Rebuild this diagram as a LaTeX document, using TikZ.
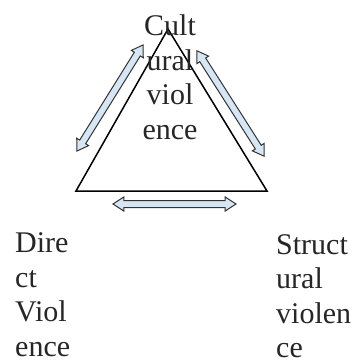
\documentclass[tikz,border=0pt]{standalone}
\usepackage{fontspec}
\setmainfont{Liberation Serif}
\usetikzlibrary{shapes.arrows}
\definecolor{arrowfill}{HTML}{D6E6F4}
\definecolor{arrowline}{HTML}{333333}
\tikzset{
  dblarrow/.style={double arrow, draw=arrowline, fill=arrowfill, line width=1pt,
    inner xsep=0pt, inner ysep=3pt, minimum width=13pt,
    double arrow head extend=3.5pt, double arrow tip angle=66,
    minimum height=#1},
  label/.style={inner sep=0pt, font=\fontsize{30}{34.5}\selectfont, text=black!85}
}
\begin{document}
\begin{tikzpicture}[x=1pt,y=-1pt]
\useasboundingbox (0,0) rectangle (353,364);
\fill[white] (0,0) rectangle (353,364);
\coordinate (apex) at (168,29);
\coordinate (bl) at (76,191);
\coordinate (br) at (267,191);
\draw[line width=1.5pt, line join=miter] (apex) -- (bl) -- (br) -- cycle;
\node[dblarrow=125pt, rotate=58.1] (la) at (110,98) {};
\node[dblarrow=125pt, rotate=-57.5] (ra) at (230.5,103.5) {};
\node[dblarrow=123pt] (ba) at (174.5,204) {};
\node[label, align=center, anchor=base] (cult) at (170,139) {Cult\\ural\\viol\\ence};
\node[label, align=left, anchor=base west] (dir) at (15,356) {Dire\\ct\\Viol\\ence};
\node[label, align=left, anchor=base west] (str) at (276,357.5) {Struct\\ural\\violen\\ce};
\end{tikzpicture}
\end{document}
